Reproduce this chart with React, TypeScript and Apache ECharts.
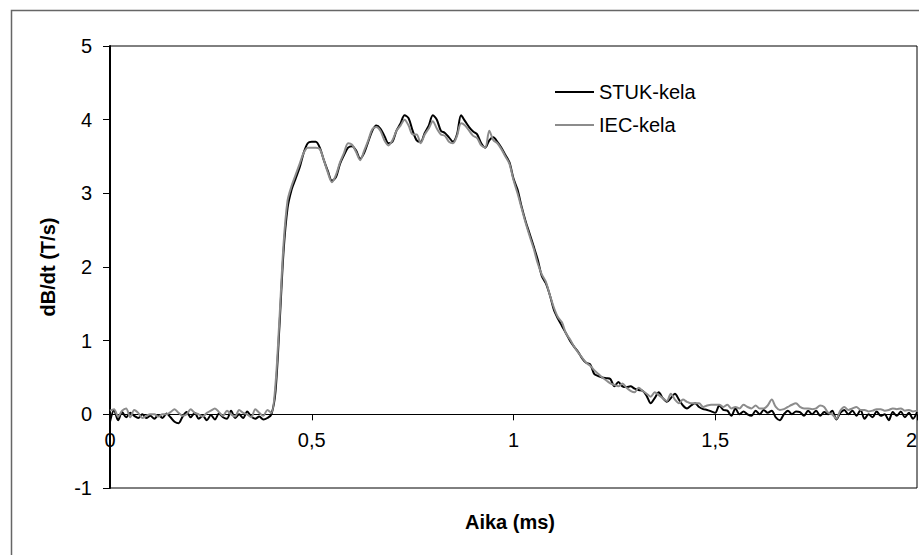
import React, { useEffect, useRef } from "react";
import * as echarts from "echarts";

// Sample step of the recorded curves (ms)
const SAMPLE_STEP_MS = 0.01;

const xTickLabels = ["0", "0,5", "1", "1,5", "2"];
const yTickLabels = ["-1", "0", "1", "2", "3", "4", "5"];

const seriesNames = ["STUK-kela", "IEC-kela"];

// STUK-kela (black), samples at 0.00, 0.01, ... 2.00 ms
const stukValues = [
  -0.10, 0.06, -0.08, 0.03, -0.04, 0.02, -0.02, -0.05, 0.00, -0.05,
  -0.02, -0.06, -0.01, -0.05, 0.01, -0.04, -0.10, -0.12, -0.03, 0.03,
  -0.04, 0.02, -0.06, -0.02, -0.08, -0.01, -0.07, 0.01, -0.04, -0.06,
  0.05, -0.05, 0.00, -0.05, 0.04, -0.03, -0.06, -0.03, -0.07, -0.05,
  0.00, 0.30, 1.20, 2.20, 2.80, 3.05, 3.20, 3.35, 3.55, 3.68,
  3.70, 3.70, 3.62, 3.45, 3.30, 3.17, 3.22, 3.40, 3.52, 3.62,
  3.64, 3.58, 3.47, 3.55, 3.70, 3.85, 3.92, 3.88, 3.78, 3.68,
  3.70, 3.85, 3.95, 4.06, 4.02, 3.85, 3.72, 3.70, 3.82, 3.92,
  4.06, 4.00, 3.85, 3.82, 3.76, 3.70, 3.80, 4.06, 3.98, 3.90,
  3.84, 3.80, 3.68, 3.62, 3.72, 3.76, 3.70, 3.62, 3.52, 3.42,
  3.20, 3.05, 2.82, 2.62, 2.45, 2.28, 2.10, 1.88, 1.78, 1.62,
  1.42, 1.30, 1.20, 1.10, 1.00, 0.92, 0.85, 0.76, 0.70, 0.68,
  0.55, 0.52, 0.50, 0.49, 0.48, 0.38, 0.44, 0.38, 0.37, 0.38,
  0.35, 0.33, 0.32, 0.25, 0.15, 0.22, 0.30, 0.22, 0.17, 0.22,
  0.28, 0.20, 0.12, 0.08, 0.12, 0.15, 0.10, 0.07, 0.06, 0.04,
  0.02, 0.12, 0.06, 0.05, -0.02, 0.08, 0.00, 0.04, 0.00, -0.02,
  0.05, 0.00, 0.06, 0.02, 0.05, -0.04, -0.08, 0.00, 0.05, 0.00,
  0.04, 0.03, -0.02, 0.05, 0.00, 0.05, -0.02, 0.03, 0.00, 0.05,
  -0.07, 0.02, 0.06, 0.00, 0.05, -0.02, 0.06, -0.06, 0.00, -0.04,
  0.04, -0.02, 0.00, -0.08, 0.03, -0.02, 0.04, -0.04, 0.02, -0.06,
  0.03,
];

// IEC-kela (grey), same sampling
const iecValues = [
  0.05, 0.07, -0.03, 0.05, 0.08, -0.04, 0.06, 0.02, -0.05, -0.02,
  0.00, 0.00, -0.03, 0.00, 0.00, 0.03, 0.07, 0.02, -0.02, 0.00,
  0.07, 0.02, 0.00, -0.03, 0.02, 0.05, 0.08, 0.03, -0.02, 0.05,
  0.00, -0.03, 0.06, 0.02, 0.00, -0.04, 0.07, 0.02, -0.02, 0.06,
  0.02, 0.40, 1.30, 2.30, 2.90, 3.10, 3.25, 3.40, 3.55, 3.62,
  3.62, 3.62, 3.60, 3.45, 3.28, 3.15, 3.25, 3.42, 3.55, 3.68,
  3.66, 3.56, 3.45, 3.58, 3.72, 3.87, 3.90, 3.85, 3.72, 3.65,
  3.72, 3.85, 3.92, 4.00, 3.92, 3.80, 3.80, 3.68, 3.80, 3.88,
  3.98, 3.88, 3.80, 3.78, 3.70, 3.68, 3.78, 3.95, 3.92, 3.85,
  3.78, 3.75, 3.65, 3.62, 3.85, 3.72, 3.68, 3.60, 3.50, 3.40,
  3.18, 3.00, 2.80, 2.60, 2.42, 2.25, 2.05, 1.90, 1.80, 1.62,
  1.45, 1.32, 1.25, 1.10, 1.02, 0.92, 0.84, 0.77, 0.70, 0.66,
  0.60, 0.55, 0.50, 0.46, 0.42, 0.40, 0.38, 0.42, 0.36, 0.32,
  0.30, 0.36, 0.32, 0.28, 0.24, 0.30, 0.26, 0.22, 0.18, 0.28,
  0.20, 0.15, 0.20, 0.17, 0.15, 0.15, 0.15, 0.10, 0.12, 0.13,
  0.13, 0.13, 0.10, 0.13, 0.08, 0.10, 0.08, 0.13, 0.10, 0.08,
  0.12, 0.08, 0.08, 0.12, 0.20, 0.10, 0.06, 0.07, 0.10, 0.13,
  0.15, 0.10, 0.08, 0.08, 0.07, 0.08, 0.12, 0.10, 0.02, 0.00,
  -0.06, 0.05, 0.10, 0.06, 0.08, 0.10, 0.06, 0.06, 0.04, 0.05,
  0.07, 0.07, 0.05, 0.06, 0.08, 0.07, 0.08, 0.05, 0.06, 0.04,
  0.05,
];

const FONT = "'Liberation Sans', Arial, sans-serif";

const Y_MIN = -1;
const Y_MAX = 5;
const GRID_TOP = 46;
const GRID_HEIGHT = 442;

export default function App() {
  const ref = useRef<HTMLDivElement>(null);

  useEffect(() => {
    if (!ref.current) return;
    const chart = echarts.init(ref.current, undefined, { renderer: "svg" });

    const toPairs = (vals: number[]) =>
      vals.map((v, i) => [Number((i * SAMPLE_STEP_MS).toFixed(2)), v]);

    const xLabelMap: Record<string, string> = {};
    [0, 0.5, 1, 1.5, 2].forEach((v, i) => (xLabelMap[String(v)] = xTickLabels[i]));
    const yLabelMap: Record<string, string> = {};
    [-1, 0, 1, 2, 3, 4, 5].forEach((v, i) => (yLabelMap[String(v)] = yTickLabels[i]));

    // x axis crosses the y axis at value 0: shift it up from the grid bottom
    const zeroOffset = -((0 - Y_MIN) / (Y_MAX - Y_MIN)) * GRID_HEIGHT;

    chart.setOption({
      animation: false,
      backgroundColor: "#ffffff",
      textStyle: { fontFamily: FONT },
      graphic: [
        {
          type: "rect",
          shape: { x: 11.5, y: 10.5, width: 1000, height: 1000 },
          style: { fill: "none", stroke: "#666666", lineWidth: 1.5 },
          silent: true,
        },
        {
          type: "text",
          left: 513 - 48,
          top: 512,
          style: {
            text: "Aika (ms)",
            font: "bold 20px 'Liberation Sans', Arial, sans-serif",
            fill: "#000",
          },
          silent: true,
        },
      ],
      legend: {
        data: [
          { name: seriesNames[0], icon: "rect" },
          { name: seriesNames[1], icon: "rect" },
        ],
        orient: "vertical",
        left: 550,
        top: 77,
        itemWidth: 39,
        itemHeight: 2,
        itemGap: 13,
        textStyle: { fontFamily: FONT, fontSize: 20, color: "#000", lineHeight: 20 },
      },
      grid: {
        left: 110,
        top: GRID_TOP,
        width: 807,
        height: GRID_HEIGHT,
        show: true,
        borderColor: "#000",
        borderWidth: 1,
        backgroundColor: "transparent",
        outerBoundsMode: "none",
        containLabel: false,
      },
      xAxis: {
        type: "value",
        min: 0,
        max: 2,
        interval: 0.5,
        position: "bottom",
        offset: zeroOffset,
        axisLine: { onZero: false, lineStyle: { color: "#000", width: 1 } },
        axisTick: { show: true, inside: false, length: 6, lineStyle: { color: "#000" } },
        axisLabel: {
          fontFamily: FONT,
          fontSize: 20,
          color: "#000",
          margin: 16,
          alignMaxLabel: "right",
          formatter: (v: number) => xLabelMap[String(v)] ?? String(v),
        },
        splitLine: { show: false },
      },
      yAxis: {
        type: "value",
        min: Y_MIN,
        max: Y_MAX,
        interval: 1,
        name: "dB/dt (T/s)",
        nameLocation: "middle",
        nameGap: 52,
        nameRotate: 90,
        nameTextStyle: { fontFamily: FONT, fontSize: 20, fontWeight: "bold", color: "#000" },
        axisLine: { onZero: false, lineStyle: { color: "#000", width: 2 } },
        axisTick: { show: true, inside: false, length: 7, lineStyle: { color: "#000" } },
        axisLabel: {
          fontFamily: FONT,
          fontSize: 20,
          color: "#000",
          margin: 18,
          formatter: (v: number) => yLabelMap[String(v)] ?? String(v),
        },
        splitLine: { show: false },
      },
      series: [
        {
          name: seriesNames[0],
          type: "line",
          data: toPairs(stukValues),
          showSymbol: false,
          smooth: 0.3,
          lineStyle: { color: "#000000", width: 2 },
          itemStyle: { color: "#000000" },
          z: 2,
        },
        {
          name: seriesNames[1],
          type: "line",
          data: toPairs(iecValues),
          showSymbol: false,
          smooth: 0.3,
          lineStyle: { color: "#8c8c8c", width: 2 },
          itemStyle: { color: "#8c8c8c" },
          z: 3,
        },
      ],
    });

    return () => chart.dispose();
  }, []);

  return (
    <div
      ref={ref}
      style={{ position: "absolute", left: 0, top: 0, width: 919, height: 555 }}
    />
  );
}
